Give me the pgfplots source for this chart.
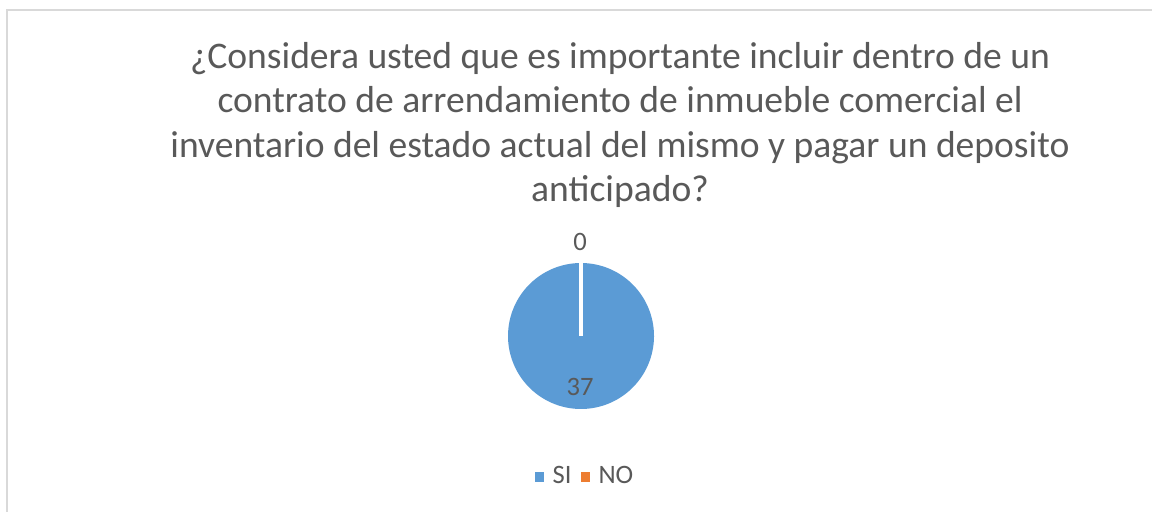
\documentclass[border=0pt]{standalone}
\usepackage{pgfplots}
\pgfplotsset{compat=1.18}
\usepackage{fontspec}
\setmainfont{Carlito}
\definecolor{piblue}{HTML}{5B9BD5}
\definecolor{piorange}{HTML}{ED7D31}
\definecolor{txt}{HTML}{595959}
\definecolor{frame}{HTML}{D9D9D9}
% data
\def\valSI{37}
\def\valNO{0}
\begin{document}
\begin{tikzpicture}
\pgfmathsetmacro{\angSI}{360*\valSI/(\valSI+\valNO)}
\begin{axis}[
  width=16cm, height=7.1111cm, scale only axis,
  xmin=0, xmax=1152, ymin=0, ymax=512, y dir=reverse,
  axis lines=none, clip=false,
  legend style={draw=none, legend columns=2, font=\fontsize{10.5}{12}\selectfont\color{txt},
    at={(axis cs:587,477)}, anchor=center,
    /tikz/every odd column/.append style={column sep=1.5pt},
    /tikz/every even column/.append style={column sep=2pt}},
  legend cell align=left,
]
% frame (extends past the picture's right and bottom edges)
\draw[frame, line width=0.8pt] (axis cs:7,520) -- (axis cs:7,10) -- (axis cs:1160,10);
% SI slice
\addplot[draw=none, fill=piblue, domain=0:\angSI, samples=180, forget plot]
  ({581+73*sin(x)},{336-73*cos(x)}) -- (axis cs:581,336) -- cycle;
% slice boundary (NO = 0)
\addplot[white, line width=1.3pt, forget plot] coordinates {(581,336) (581,262)};
\addlegendimage{only marks, mark=square*, mark size=1.6pt, piblue}
\addlegendentry{SI}
\addlegendimage{only marks, mark=square*, mark size=1.6pt, piorange}
\addlegendentry{NO}
% data labels
\node[txt, font=\fontsize{10.5}{12}\selectfont] at (axis cs:580,242) {\valNO};
\node[txt, font=\fontsize{10.5}{12}\selectfont] at (axis cs:580,387) {\valSI};
% title
\node[txt, align=center, font=\fontsize{14.85}{17.5}\selectfont] at (axis cs:620,125)
  {¿Considera usted que es importante incluir dentro de un\\
   contrato de arrendamiento de inmueble comercial el\\
   inventario del estado actual del mismo y pagar un deposito\\
   anticipado?};
\end{axis}
\pgfresetboundingbox
\useasboundingbox (current axis.south west) rectangle (current axis.north east);
\end{tikzpicture}
\end{document}
